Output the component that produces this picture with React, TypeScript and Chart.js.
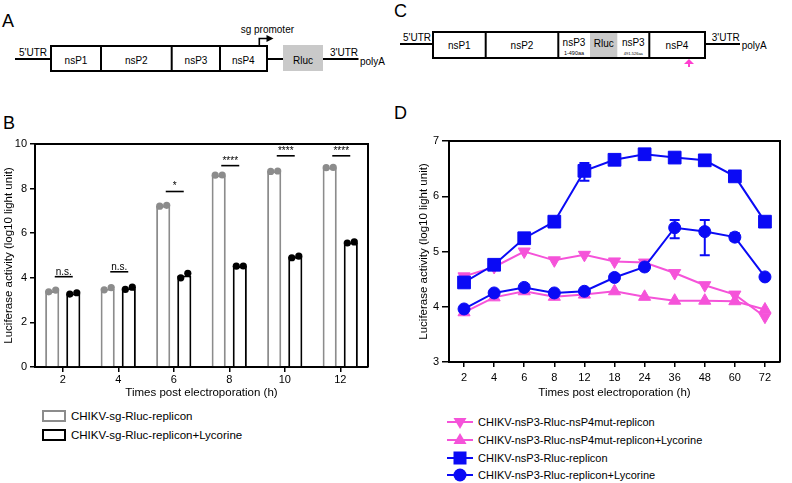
import React, { useEffect, useRef } from 'react';
import { Chart, registerables } from 'chart.js';
Chart.register(...registerables);

const FONT = '"Liberation Sans", Arial, Helvetica, sans-serif';
const GREY = '#8c8c8c';
const BLACK = '#000000';
const PINK = '#f553d9';
const BLUE = '#0a0af5';
const RLUC_FILL = '#c9c9c9';

// ---------- Panel B data ----------
const bTimes = ['2', '4', '6', '8', '10', '12'];
const bSeries = ['CHIKV-sg-Rluc-replicon', 'CHIKV-sg-Rluc-replicon+Lycorine'];
const bReplicon = [3.41, 3.51, 7.23, 8.6, 8.78, 8.95];
const bLycorine = [3.3, 3.53, 4.1, 4.53, 4.94, 5.58];
const bRepliconDots = [[3.37, 3.45], [3.46, 3.56], [7.21, 7.25], [8.6, 8.61], [8.77, 8.79], [8.94, 8.95]];
const bLycorineDots = [[3.27, 3.33], [3.48, 3.58], [4.0, 4.2], [4.52, 4.53], [4.9, 4.97], [5.56, 5.61]];
const bSigText = ['n.s.', 'n.s.', '*', '****', '****', '****'];
const bSigLevel = [4.05, 4.27, 7.87, 9.03, 9.47, 9.47];

// ---------- Panel D data ----------
const dTimes = ['2', '4', '6', '8', '12', '18', '24', '36', '48', '60', '72'];
const dSeries = [
  'CHIKV-nsP3-Rluc-nsP4mut-replicon',
  'CHIKV-nsP3-Rluc-nsP4mut-replicon+Lycorine',
  'CHIKV-nsP3-Rluc-replicon',
  'CHIKV-nsP3-Rluc-replicon+Lycorine',
];
const dMut = [4.55, 4.72, 5.0, 4.84, 4.94, 4.82, 4.8, 4.61, 4.39, 4.22, 3.82];
const dMutLyc = [3.9, 4.17, 4.28, 4.18, 4.22, 4.28, 4.18, 4.11, 4.11, 4.1, 3.95];
const dRep = [4.44, 4.76, 5.24, 5.54, 6.46, 6.66, 6.76, 6.7, 6.65, 6.36, 5.54];
const dRepLyc = [3.96, 4.25, 4.35, 4.25, 4.28, 4.53, 4.72, 5.43, 5.36, 5.26, 4.54];
const dRepErrHi = [0, 0, 0, 0, 0.14, 0, 0, 0, 0, 0, 0];
const dRepErrLo = [0, 0, 0, 0, 0.18, 0, 0, 0, 0, 0, 0];
const dRepLycErrHi = [0, 0, 0, 0, 0, 0, 0, 0.14, 0.21, 0.07, 0];
const dRepLycErrLo = [0, 0, 0, 0, 0, 0, 0, 0.19, 0.43, 0.06, 0];

const framePlugin = (lw: number) => ({
  id: 'frame',
  afterDraw(chart: any) {
    const { ctx, chartArea: a } = chart;
    ctx.save();
    ctx.strokeStyle = '#000';
    ctx.lineWidth = lw;
    ctx.beginPath();
    ctx.moveTo(a.left, a.top);
    ctx.lineTo(a.right, a.top);
    ctx.lineTo(a.right, a.bottom);
    ctx.stroke();
    ctx.restore();
  },
});

const bDotsPlugin = {
  id: 'bDots',
  afterDatasetsDraw(chart: any) {
    const { ctx } = chart;
    const y = chart.scales.y;
    [bRepliconDots, bLycorineDots].forEach((reps, di) => {
      const meta = chart.getDatasetMeta(di);
      const color = di === 0 ? GREY : BLACK;
      meta.data.forEach((bar: any, j: number) => {
        reps[j].forEach((v: number, k: number) => {
          ctx.beginPath();
          ctx.arc(bar.x + (k === 0 ? -3.5 : 3.5), y.getPixelForValue(v), 3.6, 0, Math.PI * 2);
          ctx.fillStyle = color;
          ctx.fill();
        });
      });
    });
  },
};

const bSigPlugin = {
  id: 'bSig',
  afterDatasetsDraw(chart: any) {
    const { ctx } = chart;
    const x = chart.scales.x;
    const y = chart.scales.y;
    ctx.save();
    bSigText.forEach((t, j) => {
      const cx = x.getPixelForValue(j) + 1;
      const py = y.getPixelForValue(bSigLevel[j]);
      ctx.strokeStyle = '#000';
      ctx.lineWidth = 1.6;
      ctx.beginPath();
      ctx.moveTo(cx - 9, py);
      ctx.lineTo(cx + 9, py);
      ctx.stroke();
      ctx.fillStyle = '#000';
      ctx.font = `10px ${FONT}`;
      ctx.textAlign = 'center';
      ctx.textBaseline = 'alphabetic';
      ctx.fillText(t, cx, py - 2);
    });
    ctx.restore();
  },
};

const dErrPlugin = {
  id: 'dErr',
  afterDatasetsDraw(chart: any) {
    const { ctx } = chart;
    const y = chart.scales.y;
    const sets = [
      { di: 2, vals: dRep, hi: dRepErrHi, lo: dRepErrLo },
      { di: 3, vals: dRepLyc, hi: dRepLycErrHi, lo: dRepLycErrLo },
    ];
    ctx.save();
    ctx.strokeStyle = BLUE;
    ctx.lineWidth = 2;
    sets.forEach(({ di, vals, hi, lo }) => {
      const meta = chart.getDatasetMeta(di);
      meta.data.forEach((pt: any, j: number) => {
        if (!hi[j] && !lo[j]) return;
        const yh = y.getPixelForValue(vals[j] + hi[j]);
        const yl = y.getPixelForValue(vals[j] - lo[j]);
        ctx.beginPath();
        ctx.moveTo(pt.x, yh);
        ctx.lineTo(pt.x, yl);
        ctx.moveTo(pt.x - 5, yh);
        ctx.lineTo(pt.x + 5, yh);
        ctx.moveTo(pt.x - 5, yl);
        ctx.lineTo(pt.x + 5, yl);
        ctx.stroke();
      });
    });
    ctx.restore();
  },
};

const axisGrid = (len: number, w: number) => ({
  display: true,
  drawOnChartArea: false,
  drawTicks: true,
  offset: false,
  tickLength: len,
  color: '#000',
  lineWidth: w,
});

export default function App() {
  const bRef = useRef<HTMLCanvasElement>(null);
  const dRef = useRef<HTMLCanvasElement>(null);

  useEffect(() => {
    Chart.defaults.font.family = FONT;
    Chart.defaults.color = '#000';
    const chartB = new Chart(bRef.current as HTMLCanvasElement, {
      type: 'bar',
      data: {
        labels: bTimes,
        datasets: [
          {
            label: bSeries[0],
            data: bReplicon,
            backgroundColor: '#ffffff',
            borderColor: GREY,
            borderWidth: 2,
            barPercentage: 0.67,
            categoryPercentage: 0.76,
          },
          {
            label: bSeries[1],
            data: bLycorine,
            backgroundColor: '#ffffff',
            borderColor: BLACK,
            borderWidth: 2,
            barPercentage: 0.67,
            categoryPercentage: 0.76,
          },
        ],
      },
      options: {
        responsive: false,
        animation: false,
        layout: { padding: { left: 0, top: 34, right: 32, bottom: 0 } },
        plugins: { legend: { display: false }, tooltip: { enabled: false } },
        scales: {
          x: {
            grid: axisGrid(5, 1.5) as any,
            border: { color: '#000', width: 2 },
            ticks: { color: '#000', font: { family: FONT, size: 11 }, padding: 1 },
            title: {
              display: true,
              text: 'Times post electroporation (h)',
              color: '#000',
              font: { family: FONT, size: 11.5 },
              padding: { top: 0, bottom: 10 },
            },
            afterFit: (s: any) => {
              s.height = 43;
            },
          },
          y: {
            min: 0,
            max: 10,
            grid: axisGrid(5, 1.5) as any,
            border: { color: '#000', width: 2 },
            ticks: { stepSize: 2, color: '#000', font: { family: FONT, size: 11 }, padding: 3 },
            title: {
              display: true,
              text: 'Luciferase activity (log10 light unit)',
              color: '#000',
              font: { family: FONT, size: 11.5 },
              padding: { top: 2, bottom: 0 },
            },
            afterFit: (s: any) => {
              s.width = 35;
            },
          },
        },
      },
      plugins: [framePlugin(2), bDotsPlugin, bSigPlugin],
    });

    const chartD = new Chart(dRef.current as HTMLCanvasElement, {
      type: 'line',
      data: {
        labels: dTimes,
        datasets: [
          {
            label: dSeries[0],
            data: dMut,
            borderColor: PINK,
            backgroundColor: PINK,
            borderWidth: 2,
            pointStyle: 'triangle',
            pointRotation: 180,
            pointRadius: 7,
            pointBorderWidth: 1,
            order: 3,
          },
          {
            label: dSeries[1],
            data: dMutLyc,
            borderColor: PINK,
            backgroundColor: PINK,
            borderWidth: 2,
            pointStyle: 'triangle',
            pointRadius: 7,
            pointBorderWidth: 1,
            order: 2,
          },
          {
            label: dSeries[2],
            data: dRep,
            borderColor: BLUE,
            backgroundColor: BLUE,
            borderWidth: 2,
            pointStyle: 'rect',
            pointRadius: 9,
            pointBorderWidth: 1,
            order: 0,
          },
          {
            label: dSeries[3],
            data: dRepLyc,
            borderColor: BLUE,
            backgroundColor: BLUE,
            borderWidth: 2,
            pointStyle: 'circle',
            pointRadius: 6,
            pointBorderWidth: 1,
            order: 1,
          },
        ],
      },
      options: {
        responsive: false,
        animation: false,
        layout: { padding: { left: 0, top: 31, right: 12, bottom: 0 } },
        plugins: { legend: { display: false }, tooltip: { enabled: false } },
        scales: {
          x: {
            offset: true,
            grid: axisGrid(5, 1.5) as any,
            border: { color: '#000', width: 2 },
            ticks: { color: '#000', font: { family: FONT, size: 11 }, padding: 4 },
            title: {
              display: true,
              text: 'Times post electroporation (h)',
              color: '#000',
              font: { family: FONT, size: 11.5 },
              padding: { top: 0, bottom: 10 },
            },
            afterFit: (s: any) => {
              s.height = 48;
            },
          },
          y: {
            min: 3,
            max: 7,
            grid: axisGrid(7, 1.5) as any,
            border: { color: '#000', width: 2 },
            ticks: { stepSize: 1, color: '#000', font: { family: FONT, size: 11 }, padding: 3 },
            title: {
              display: true,
              text: 'Luciferase activity (log10 light unit)',
              color: '#000',
              font: { family: FONT, size: 11.5 },
              padding: { top: 17, bottom: 0 },
            },
            afterFit: (s: any) => {
              s.width = 49;
            },
          },
        },
      },
      plugins: [framePlugin(2), dErrPlugin],
    });

    return () => {
      chartB.destroy();
      chartD.destroy();
    };
  }, []);

  const bColors = [GREY, BLACK];
  const dMarkers = ['down', 'up', 'square', 'circle'];
  const dColors = [PINK, PINK, BLUE, BLUE];

  const marker = (kind: string, color: string) => {
    const cx = 13;
    const cy = 8;
    if (kind === 'down') return <polygon points={`${cx - 6.5},${cy - 4} ${cx + 6.5},${cy - 4} ${cx},${cy + 7}`} fill={color} />;
    if (kind === 'up') return <polygon points={`${cx - 6.5},${cy + 4} ${cx + 6.5},${cy + 4} ${cx},${cy - 7}`} fill={color} />;
    if (kind === 'square') return <rect x={cx - 6.5} y={cy - 6.5} width={13} height={13} fill={color} />;
    return <circle cx={cx} cy={cy} r={6.5} fill={color} />;
  };

  return (
    <div
      style={{
        position: 'absolute',
        left: 0,
        top: 0,
        width: 792,
        height: 483,
        background: '#fff',
        overflow: 'hidden',
        fontFamily: FONT,
        color: '#000',
      }}
    >
      <svg width={792} height={110} style={{ position: 'absolute', left: 0, top: 0 }} fontFamily={FONT}>
        {/* Panel A schematic */}
        <text x={2} y={27} fontSize={18}>A</text>
        <line x1={15} y1={59} x2={51} y2={59} stroke="#000" strokeWidth={2} />
        <text x={19} y={56} fontSize={10}>5'UTR</text>
        <rect x={51} y={46} width={216} height={25} fill="#fff" stroke="#000" strokeWidth={2} />
        <line x1={101} y1={46} x2={101} y2={71} stroke="#000" strokeWidth={2} />
        <line x1={171.7} y1={46} x2={171.7} y2={71} stroke="#000" strokeWidth={2} />
        <line x1={220} y1={46} x2={220} y2={71} stroke="#000" strokeWidth={2} />
        <text x={76} y={64} fontSize={10} textAnchor="middle">nsP1</text>
        <text x={136.3} y={64} fontSize={10} textAnchor="middle">nsP2</text>
        <text x={196} y={64} fontSize={10} textAnchor="middle">nsP3</text>
        <text x={243.3} y={64} fontSize={10} textAnchor="middle">nsP4</text>
        <line x1={267} y1={59} x2={283} y2={59} stroke="#000" strokeWidth={2} />
        <rect x={283} y={45} width={40} height={26} fill={RLUC_FILL} />
        <text x={303} y={64} fontSize={10} textAnchor="middle">Rluc</text>
        <line x1={323} y1={59} x2={358.5} y2={59} stroke="#000" strokeWidth={2} />
        <text x={330} y={56} fontSize={10}>3'UTR</text>
        <text x={360} y={65} fontSize={10}>polyA</text>
        <path d="M259.3 45 V38.5 H268" fill="none" stroke="#000" strokeWidth={1.6} />
        <polygon points="273.5,38.5 266.5,35 266.5,42" fill="#000" />
        <text x={240.7} y={33} fontSize={10}>sg promoter</text>

        {/* Panel C schematic */}
        <text x={394} y={17} fontSize={18}>C</text>
        <line x1={400} y1={44} x2={433} y2={44} stroke="#000" strokeWidth={2} />
        <text x={403} y={41} fontSize={10}>5'UTR</text>
        <rect x={433} y={32} width={272} height={26} fill="#fff" stroke="#000" strokeWidth={2} />
        <rect x={590} y={33} width={27.3} height={24} fill={RLUC_FILL} />
        <line x1={485.7} y1={32} x2={485.7} y2={58} stroke="#000" strokeWidth={2} />
        <line x1={558.3} y1={32} x2={558.3} y2={58} stroke="#000" strokeWidth={2} />
        <line x1={649.3} y1={32} x2={649.3} y2={58} stroke="#000" strokeWidth={2} />
        <text x={459.3} y={49} fontSize={10} textAnchor="middle">nsP1</text>
        <text x={522} y={49} fontSize={10} textAnchor="middle">nsP2</text>
        <text x={574} y={46} fontSize={10} textAnchor="middle">nsP3</text>
        <text x={574} y={54.5} fontSize={5.5} textAnchor="middle">1-490aa</text>
        <text x={603.7} y={47} fontSize={10} textAnchor="middle">Rluc</text>
        <text x={633.3} y={46} fontSize={10} textAnchor="middle">nsP3</text>
        <text x={633.3} y={54.5} fontSize={4} textAnchor="middle">491-526aa</text>
        <text x={677} y={49} fontSize={10} textAnchor="middle">nsP4</text>
        <line x1={705} y1={44} x2={740} y2={44} stroke="#000" strokeWidth={2} />
        <text x={711.7} y={41} fontSize={10}>3'UTR</text>
        <text x={741.7} y={49} fontSize={10}>polyA</text>
        <polygon points="689,59 684,64 694,64" fill="#ff3fd0" />
        <line x1={689} y1={63} x2={689} y2={67} stroke="#ff3fd0" strokeWidth={2} />
      </svg>

      <div style={{ position: 'absolute', left: 3, top: 113, fontSize: 18, lineHeight: '20px' }}>B</div>
      <div style={{ position: 'absolute', left: 394, top: 103, fontSize: 18, lineHeight: '20px' }}>D</div>

      <canvas ref={bRef} width={400} height={300} style={{ position: 'absolute', left: 0, top: 110, width: 400, height: 300 }} />
      <canvas ref={dRef} width={392} height={300} style={{ position: 'absolute', left: 400, top: 110, width: 392, height: 300 }} />

      {bSeries.map((name, i) => (
        <div
          key={name}
          style={{ position: 'absolute', left: 42, top: 410 + i * 19, height: 12, display: 'flex', alignItems: 'center' }}
        >
          <div style={{ width: 20, height: 8, border: `2px solid ${bColors[i]}` }} />
          <span style={{ marginLeft: 5, fontSize: 11.5, whiteSpace: 'nowrap' }}>{name}</span>
        </div>
      ))}

      {dSeries.map((name, i) => (
        <div
          key={name}
          style={{ position: 'absolute', left: 447, top: 414 + i * 17.8, height: 16, display: 'flex', alignItems: 'center' }}
        >
          <svg width={26} height={16}>
            <line x1={0} y1={8} x2={26} y2={8} stroke={dColors[i]} strokeWidth={2} />
            {marker(dMarkers[i], dColors[i])}
          </svg>
          <span style={{ marginLeft: 5, fontSize: 11, whiteSpace: 'nowrap' }}>{name}</span>
        </div>
      ))}
    </div>
  );
}
